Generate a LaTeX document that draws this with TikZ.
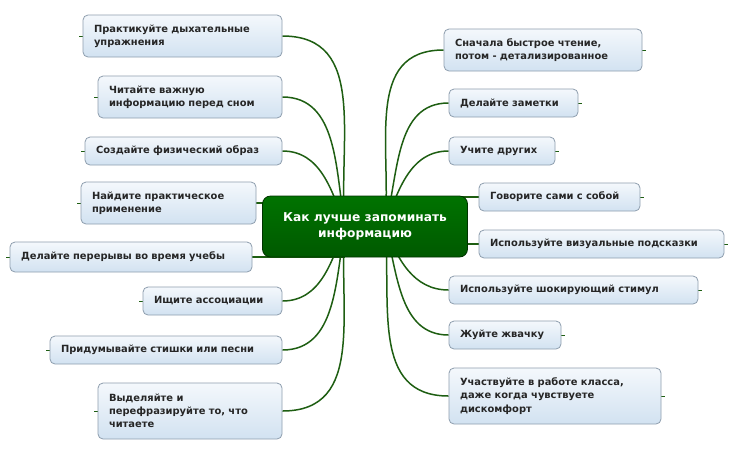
\documentclass[tikz,border=0pt]{standalone}
\usepackage{fontspec}
\setmainfont{DejaVu Sans}
\usetikzlibrary{backgrounds}
\definecolor{lnk}{HTML}{1E5E12}
\definecolor{bxb}{HTML}{8E9EAE}
\definecolor{bxt}{HTML}{F4F8FC}
\definecolor{bxm}{HTML}{D2E2F1}
\tikzset{
 leaf/.style 2 args={draw=bxb,line width=0.8pt,rounded corners=5pt,top color=bxt,bottom color=bxm,
   font=\fontsize{9.9}{13.2}\selectfont\bfseries,text=black!85,align=left,inner xsep=11pt,inner ysep=0pt,
   text width=#1pt-22pt,minimum height=#2pt},
 ctrbox/.style={draw=green!20!black,line width=0.8pt,rounded corners=8pt,top color=green!45!black,bottom color=green!35!black,
   font=\fontsize{12.2}{16}\selectfont\bfseries,text=white,align=center},
 conn/.style={draw=lnk,line width=1.5pt},
 stub/.style={draw=lnk,line width=1pt}
}
\begin{document}
\begin{tikzpicture}[x=1pt,y=-1pt]
\useasboundingbox (0,0) rectangle (738,467);
\node[ctrbox,minimum width=205pt,minimum height=61pt] (c) at (365,226.5) {Как лучше запоминать\\информацию};
% left
\node[leaf={199}{42}] (l1) at (182.5,36) {Практикуйте дыхательные\\упражнения};
\node[leaf={184}{42}] (l2) at (190,97) {Читайте важную\\информацию перед сном};
\node[leaf={197}{28}] (l3) at (183.5,151) {Создайте физический образ};
\node[leaf={175}{42}] (l4) at (168.5,203) {Найдите практическое\\применение};
\node[leaf={242}{30}] (l5) at (131,257) {Делайте перерывы во время учебы};
\node[leaf={139}{28}] (l6) at (212.5,301) {Ищите ассоциации};
\node[leaf={232}{28}] (l7) at (166,350) {Придумывайте стишки или песни};
\node[leaf={184}{56}] (l8) at (190,411) {Выделяйте и\\перефразируйте то, что\\читаете};
% right
\node[leaf={198}{42}] (r1) at (543,50) {Сначала быстрое чтение,\\потом - детализированное};
\node[leaf={129}{28}] (r2) at (513.5,103) {Делайте заметки};
\node[leaf={106}{28}] (r3) at (502,151) {Учите других};
\node[leaf={161}{28}] (r4) at (559.5,197) {Говорите сами с собой};
\node[leaf={245}{28}] (r5) at (601.5,244) {Используйте визуальные подсказки};
\node[leaf={249}{28}] (r6) at (573.5,290) {Используйте шокирующий стимул};
\node[leaf={112}{28}] (r7) at (505,335) {Жуйте жвачку};
\node[leaf={212}{56}] (r8) at (555,396) {Участвуйте в работе класса,\\даже когда чувствуете\\дискомфорт};
\begin{pgfonlayer}{background}
\fill[white] (0,0) rectangle (738,467);
\coordinate (cl) at (345,226);
\coordinate (cr) at (385,226);
\draw[conn] (cl) to[out=95,in=0,looseness=1.1] (l1.east);
\draw[conn] (cl) to[out=100,in=0] (l2.east);
\draw[conn] (cl) to[out=110,in=0] (l3.east);
\draw[conn] (l4.east) -- (l4.east -| cl);
\draw[conn] (l5.east) -- (l5.east -| cl);
\draw[conn] (cl) to[out=-110,in=0] (l6.east);
\draw[conn] (cl) to[out=-100,in=0] (l7.east);
\draw[conn] (cl) to[out=-95,in=0,looseness=1.1] (l8.east);
\draw[conn] (cr) to[out=85,in=180,looseness=1.1] (r1.west);
\draw[conn] (cr) to[out=75,in=180] (r2.west);
\draw[conn] (cr) to[out=70,in=180] (r3.west);
\draw[conn] (r4.west) -- (r4.west -| cr);
\draw[conn] (r5.west) -- (r5.west -| cr);
\draw[conn] (cr) to[out=-70,in=180] (r6.west);
\draw[conn] (cr) to[out=-75,in=180] (r7.west);
\draw[conn] (cr) to[out=-85,in=180,looseness=1.1] (r8.west);
\foreach \n in {l1,l2,l3,l4,l5,l6,l7,l8} \draw[stub] (\n.west) -- ++(-4,0);
\foreach \n in {r1,r2,r3,r4,r5,r6,r7,r8} \draw[stub] (\n.east) -- ++(4,0);
\end{pgfonlayer}
\end{tikzpicture}
\end{document}
